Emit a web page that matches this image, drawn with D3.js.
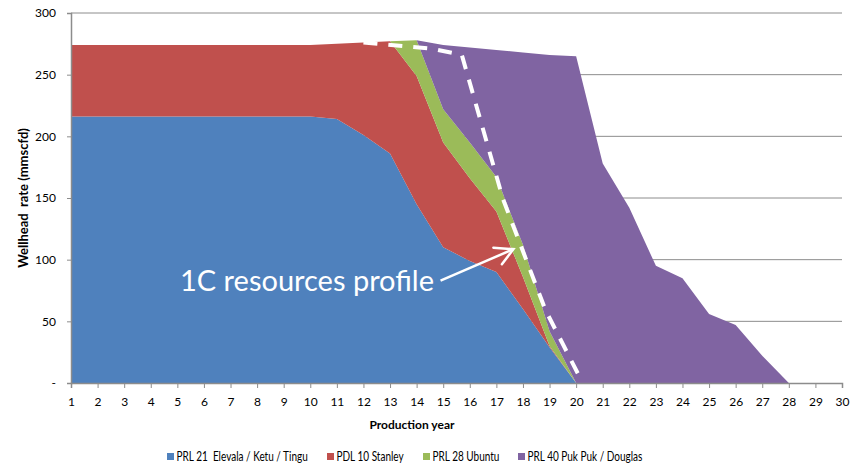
<!DOCTYPE html>
<html>
<head>
<meta charset="utf-8">
<title>Wellhead rate</title>
<script src="https://cdnjs.cloudflare.com/ajax/libs/d3/7.8.5/d3.min.js"></script>
<style>
body { margin: 0; background: #fff; }
text { font-family: Lato, "Open Sans", sans-serif; fill: #000; }
</style>
</head>
<body>
<svg id="chart" width="855" height="470"></svg>
<script>

// production years (category axis)
var years = [1, 2, 3, 4, 5, 6, 7, 8, 9, 10, 11, 12, 13, 14, 15, 16, 17, 18, 19, 20,
             21, 22, 23, 24, 25, 26, 27, 28, 29, 30];

// stacked series, mmscfd
var prl21 = [216, 216, 216, 216, 216, 216, 216, 216, 216, 216, 214, 201, 186, 145, 110, 99, 90, 60, 29, 0,
             0, 0, 0, 0, 0, 0, 0, 0, 0, 0];
var pdl10 = [58, 58, 58, 58, 58, 58, 58, 58, 58, 58, 61, 75, 91, 104, 85, 67, 49, 26, 1, 0,
             0, 0, 0, 0, 0, 0, 0, 0, 0, 0];
var prl28 = [0, 0, 0, 0, 0, 0, 0, 0, 0, 0, 0, 0, 0, 29, 27, 29, 28, 26, 12, 0,
             0, 0, 0, 0, 0, 0, 0, 0, 0, 0];
var prl40 = [0, 0, 0, 0, 0, 0, 0, 0, 0, 0, 0, 0, 0, 0, 52, 77, 103, 156, 224, 265,
             178, 142, 95, 85, 56, 47, 22, 0, 0, 0];

var seriesNames = ["PRL 21  Elevala / Ketu / Tingu", "PDL 10 Stanley", "PRL 28 Ubuntu", "PRL 40 Puk Puk / Douglas"];
var colours = ["#4f81bd", "#c0504d", "#9bbb59", "#8064a2"];

// 1C resources profile (dashed line)
var profileYears = [12.0, 13.55, 14.6, 15.7, 17.25, 18.85, 20.2];
var profileValues = [276, 273, 271, 266, 149, 59, 2];

var yTicks = [0, 50, 100, 150, 200, 250, 300];

var svg = d3.select("#chart");
var plotL = 71, plotR = 842, plotT = 13, plotB = 383;

var x = d3.scaleLinear().domain([1, 30]).range([plotL, plotR]);
var y = d3.scaleLinear().domain([0, 300]).range([plotB, plotT]);

// gridlines
svg.append("g").selectAll("line")
  .data(yTicks.slice(1))
  .enter().append("line")
    .attr("x1", plotL).attr("x2", plotR)
    .attr("y1", function(d) { return y(d); })
    .attr("y2", function(d) { return y(d); })
    .attr("stroke", "#8c8c8c")
    .attr("stroke-width", 1);

// stacked areas
var rows = years.map(function(yr, i) {
  return { year: yr, s0: prl21[i], s1: pdl10[i], s2: prl28[i], s3: prl40[i] };
});
var stacked = d3.stack().keys(["s0", "s1", "s2", "s3"])(rows);

var area = d3.area()
  .x(function(d) { return x(d.data.year); })
  .y0(function(d) { return y(d[0]); })
  .y1(function(d) { return y(d[1]); });

svg.append("g").selectAll("path")
  .data(stacked)
  .enter().append("path")
    .attr("d", area)
    .attr("fill", function(d, i) { return colours[i]; });

// axes
var yAxis = d3.axisLeft(y).tickValues(yTicks).tickSize(4).tickPadding(10)
  .tickFormat(function(d) { return d === 0 ? "-" : d; });
var gy = svg.append("g").attr("transform", "translate(" + plotL + ",0)").call(yAxis);

var xAxis = d3.axisBottom(x).tickValues(years).tickSize(5).tickPadding(9)
  .tickFormat(d3.format("d"));
var gx = svg.append("g").attr("transform", "translate(0," + plotB + ")").call(xAxis);

[gx, gy].forEach(function(g) {
  g.select(".domain").attr("stroke", "#8c8c8c").attr("stroke-width", 1.5);
  g.selectAll(".tick line").attr("stroke", "#8c8c8c");
  g.selectAll(".tick text").style("font-family", "Lato, 'Open Sans', sans-serif").style("font-size", "12px").attr("fill", "#000");
});
gy.selectAll(".tick text").attr("dx", "-1");

// dashed profile line
var line = d3.line()
  .x(function(d) { return x(d[0]); })
  .y(function(d) { return y(d[1]); });

svg.append("path")
  .datum(profileYears.map(function(yr, i) { return [yr, profileValues[i]]; }))
  .attr("d", line)
  .attr("fill", "none")
  .attr("stroke", "#fff")
  .attr("stroke-width", 4)
  .attr("stroke-dasharray", "14,11");

// annotation
svg.append("text")
  .attr("x", x(5.1))
  .attr("y", y(75))
  .style("font-size", "29px")
  .style("fill", "#fff")
  .text("1C resources profile");

var arrowFrom = [14.9, 83], arrowTip = [17.64, 108.5];
svg.append("line")
  .attr("x1", x(arrowFrom[0])).attr("y1", y(arrowFrom[1]))
  .attr("x2", x(arrowTip[0])).attr("y2", y(arrowTip[1]))
  .attr("stroke", "#fff").attr("stroke-width", 2.5);
var tx = x(arrowTip[0]), ty = y(arrowTip[1]);
svg.append("path")
  .attr("d", "M" + (tx - 20) + "," + (ty - 1.5) + "L" + tx + "," + ty + "L" + (tx - 11.5) + "," + (ty + 15))
  .attr("fill", "none").attr("stroke", "#fff").attr("stroke-width", 2.5)
  .attr("stroke-linecap", "round");

// axis titles
svg.append("text")
  .attr("x", 412).attr("y", 429)
  .attr("text-anchor", "middle")
  .style("font-size", "12px").style("font-weight", "bold")
  .text("Production year");

svg.append("text")
  .attr("transform", "translate(28," + ((plotT + plotB) / 2) + ") rotate(-90)")
  .attr("text-anchor", "middle")
  .style("font-size", "13px").style("font-weight", "bold")
  .style("white-space", "pre")
  .text("Wellhead  rate (mmscfd)");

// legend (text squeezed a little to mimic the narrow original font)
var legendX = [167, 327, 423, 518];
var legend = svg.append("g").selectAll("g")
  .data(seriesNames)
  .enter().append("g")
    .attr("transform", function(d, i) { return "translate(" + legendX[i] + ",452)"; });
legend.append("rect")
  .attr("width", 7).attr("height", 7).attr("y", 1)
  .attr("fill", function(d, i) { return colours[i]; });
legend.append("text")
  .attr("x", 9.5).attr("y", 9)
  .style("font-size", "12.5px")
  .style("white-space", "pre")
  .text(function(d) { return d; })
  .each(function() {
    var w = this.getComputedTextLength();
    d3.select(this).attr("textLength", w * 0.8).attr("lengthAdjust", "spacingAndGlyphs");
  });

</script>
</body>
</html>
